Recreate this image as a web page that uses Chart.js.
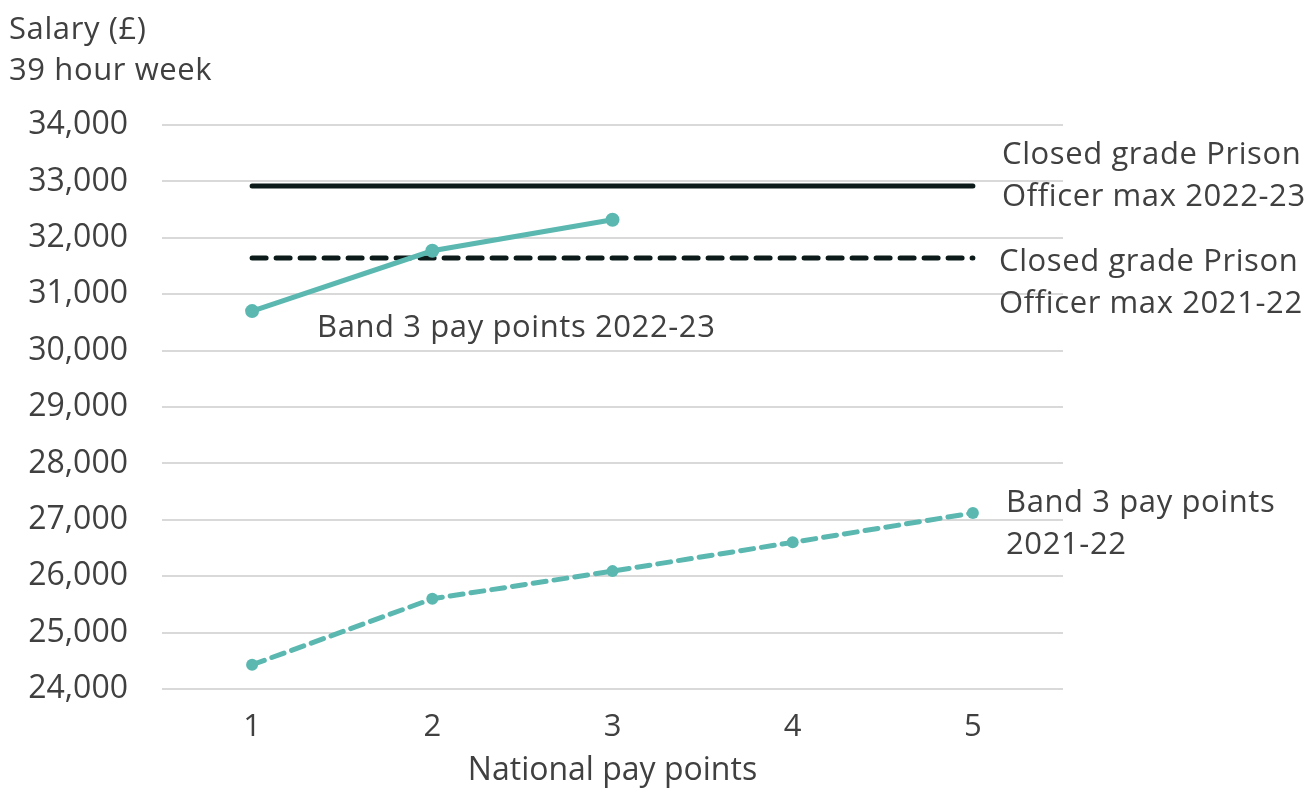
<!DOCTYPE html>
<html lang="en">
<head>
<meta charset="UTF-8">
<title>Band 3 pay points vs Prison Officer max</title>
<script src="https://cdn.jsdelivr.net/npm/chart.js"></script>
<style>
  html, body { margin: 0; padding: 0; background: #fff; }
  #wrap { width: 1316px; height: 790px; position: relative; }
</style>
</head>
<body>
<div id="wrap"><canvas id="grafico"></canvas></div>

<script>
// dados
const payPoints = ['1', '2', '3', '4', '5'];
const band3_2223 = [30700, 31770, 32320, null, null];
const band3_2122 = [24430, 25600, 26090, 26600, 27120];
const closedMax_2223 = [32920, 32920, 32920, 32920, 32920];
const closedMax_2122 = [31640, 31640, 31640, 31640, 31640];

const yMin = 24000, yMax = 34000, yStep = 1000;

const teal = '#5bb8b1';
const black = '#0c1a1a';
const grey = '#404040';
const fonte = "'Open Sans', sans-serif";

// rótulos escritos ao lado das linhas
const rotulos = [
  { lines: ['Band 3 pay points 2022-23'], x: 317, y: 328 },
  { lines: ['Closed grade Prison', 'Officer max 2022-23'], x: 1002, y: 155 },
  { lines: ['Closed grade Prison', 'Officer max 2021-22'], x: 999, y: 262 },
  { lines: ['Band 3 pay points', '2021-22'], x: 1006, y: 503 }
];
const yTitle = ['Salary (£)', '39 hour week'];

const textos = {
  id: 'textos',
  afterDraw(chart) {
    const ctx = chart.ctx;
    ctx.save();
    ctx.fillStyle = grey;
    ctx.textBaseline = 'middle';
    ctx.textAlign = 'left';
    ctx.letterSpacing = '0.6px';
    ctx.font = '31px ' + fonte;
    rotulos.forEach(r => {
      r.lines.forEach((t, i) => ctx.fillText(t, r.x, r.y + i * 42));
    });
    yTitle.forEach((t, i) => ctx.fillText(t, 9, 30 + i * 41));
    ctx.restore();
  }
};

const ctx = document.getElementById('grafico').getContext('2d');

new Chart(ctx, {
  type: 'line',
  data: {
    labels: payPoints,
    datasets: [
      {
        label: 'Band 3 pay points 2022-23',
        data: band3_2223,
        borderColor: teal,
        backgroundColor: teal,
        borderWidth: 5,
        pointRadius: 7,
        pointBorderWidth: 0,
        spanGaps: false
      },
      {
        label: 'Band 3 pay points 2021-22',
        data: band3_2122,
        borderColor: teal,
        backgroundColor: teal,
        borderWidth: 5,
        borderDash: [13, 8],
        borderCapStyle: 'round',
        pointRadius: 6,
        pointBorderWidth: 0
      },
      {
        label: 'Closed grade Prison Officer max 2022-23',
        data: closedMax_2223,
        borderColor: black,
        borderWidth: 5,
        borderCapStyle: 'round',
        pointRadius: 0
      },
      {
        label: 'Closed grade Prison Officer max 2021-22',
        data: closedMax_2122,
        borderColor: black,
        borderWidth: 5,
        borderDash: [14, 10],
        borderCapStyle: 'round',
        pointRadius: 0
      }
    ]
  },
  options: {
    responsive: true,
    maintainAspectRatio: false,
    animation: false,
    layout: { padding: { left: 0, top: 125, right: 253, bottom: 0 } },
    plugins: {
      legend: { display: false },
      tooltip: { enabled: false }
    },
    scales: {
      x: {
        offset: true,
        grid: { display: false, drawTicks: false },
        border: { display: false },
        ticks: { color: grey, font: { family: fonte, size: 31 }, padding: 20 },
        title: {
          display: true,
          text: 'National pay points',
          color: grey,
          font: { family: fonte, size: 32 },
          padding: { top: 0, bottom: 0 }
        },
        afterFit(scale) { scale.height = 101; }
      },
      y: {
        min: yMin,
        max: yMax,
        grid: { color: '#d9d9d9', lineWidth: 2, drawTicks: false },
        border: { display: false },
        ticks: {
          stepSize: yStep,
          color: grey,
          padding: 34,
          font: { family: fonte, size: 32 },
          callback: v => v.toLocaleString('en-GB')
        },
        afterFit(scale) { scale.width = 162; }
      }
    }
  },
  plugins: [textos]
});
</script>
</body>
</html>
